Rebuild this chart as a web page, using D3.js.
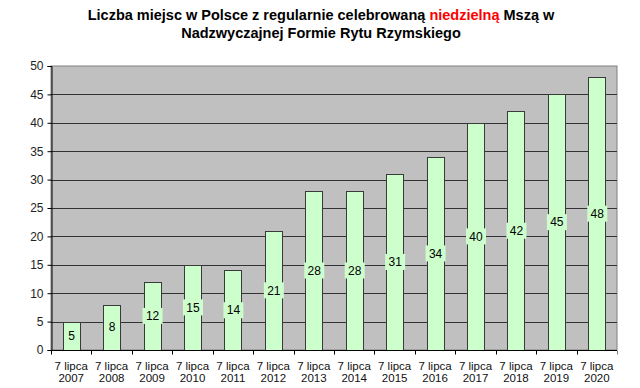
<!DOCTYPE html>
<html>
<head>
<meta charset="utf-8">
<script src="https://cdn.jsdelivr.net/npm/d3@7"></script>
<style>
  body { margin: 0; background: #fff; }
  svg { display: block; font-family: "Liberation Sans", Arial, sans-serif; }
</style>
</head>
<body>
<div id="chart"></div>
<script>
// Data
const lineOne = ["7 lipca", "7 lipca", "7 lipca", "7 lipca", "7 lipca", "7 lipca", "7 lipca",
                 "7 lipca", "7 lipca", "7 lipca", "7 lipca", "7 lipca", "7 lipca", "7 lipca"];
const years = ["2007", "2008", "2009", "2010", "2011", "2012", "2013",
               "2014", "2015", "2016", "2017", "2018", "2019", "2020"];
const counts = [5, 8, 12, 15, 14, 21, 28, 28, 31, 34, 40, 42, 45, 48];
const yTicks = [0, 5, 10, 15, 20, 25, 30, 35, 40, 45, 50];

const svgWidth = 640;
const svgHeight = 388;
const plotLeft = 51, plotRight = 617, plotTop = 66, plotBottom = 350;

const svg = d3.select("#chart").append("svg")
   .attr("width", svgWidth)
   .attr("height", svgHeight);

// **Title
const title = svg.append("text")
   .attr("text-anchor", "middle")
   .attr("font-size", 14.5)
   .attr("font-weight", "bold")
   .attr("fill", "#000");
const t1 = title.append("tspan").attr("x", 321).attr("y", 20);
t1.append("tspan").text("Liczba miejsc w Polsce z regularnie celebrowaną ");
t1.append("tspan").attr("fill", "#ff0000").text("niedzielną");
t1.append("tspan").text(" Mszą w");
title.append("tspan").attr("x", 321).attr("y", 38).text("Nadzwyczajnej Formie Rytu Rzymskiego");

// **Scales
const x = d3.scaleBand()
   .domain(years)
   .range([plotLeft, plotRight])
   .paddingInner(0.58)
   .paddingOuter(0.29);
const xEdges = d3.scaleBand().domain(years).range([plotLeft, plotRight]);
const y = d3.scaleLinear().domain([0, 50]).range([plotBottom, plotTop]);

// **Plot area
svg.append("rect")
   .attr("x", plotLeft).attr("y", plotTop)
   .attr("width", plotRight - plotLeft).attr("height", plotBottom - plotTop)
   .attr("fill", "#c0c0c0")
   .attr("stroke", "#808080");

// Gridlines
svg.append("g")
   .selectAll("line")
   .data(yTicks.filter(d => d > 0 && d < 50))
   .enter().append("line")
   .attr("x1", plotLeft).attr("x2", plotRight)
   .attr("y1", d => Math.round(y(d)) + 0.5).attr("y2", d => Math.round(y(d)) + 0.5)
   .attr("stroke", "#333")
   .attr("stroke-width", 1);

// **Bars
svg.append("g")
   .selectAll("rect")
   .data(counts)
   .enter().append("rect")
   .attr("x", (d, i) => Math.round(x(years[i])) + 0.5)
   .attr("y", d => Math.round(y(d)) + 0.5)
   .attr("width", Math.round(x.bandwidth()))
   .attr("height", d => Math.round(y(0)) - Math.round(y(d)))
   .attr("fill", "#ccffcc")
   .attr("stroke", "#3a3a3a")
   .attr("stroke-width", 1);

// **Value labels
const labels = svg.append("g")
   .selectAll("g")
   .data(counts)
   .enter().append("g")
   .attr("transform", (d, i) => `translate(${x(years[i]) + x.bandwidth() / 2 + 0.5},${(y(d) + y(0)) / 2})`);
labels.append("rect")
   .attr("x", d => d < 10 ? -6 : -10)
   .attr("y", -8)
   .attr("width", d => d < 10 ? 12 : 20)
   .attr("height", 16)
   .attr("fill", "#ccffcc");
labels.append("text")
   .attr("text-anchor", "middle")
   .attr("dy", "0.35em")
   .attr("font-size", 12)
   .attr("fill", "#000")
   .text(d => d);

// **Axes
const yAxis = d3.axisLeft(y).tickValues(yTicks).tickSize(4).tickPadding(4);
const gY = svg.append("g")
   .attr("transform", `translate(${plotLeft + 0.5},0)`)
   .call(yAxis);
gY.select(".domain").attr("stroke", "#000");
gY.selectAll(".tick line").attr("stroke", "#000");
gY.selectAll(".tick text")
   .attr("font-size", 12)
   .attr("font-family", "Liberation Sans, Arial, sans-serif")
   .attr("fill", "#222");

// x axis line with ticks at band edges
const gX = svg.append("g").attr("transform", `translate(0,${plotBottom + 0.5})`);
gX.append("line")
   .attr("x1", plotLeft).attr("x2", plotRight)
   .attr("stroke", "#000");
gX.selectAll("line.tk")
   .data(years.concat(["end"]))
   .enter().append("line")
   .attr("class", "tk")
   .attr("x1", (d, i) => Math.round(i < years.length ? xEdges(d) : plotRight) + 0.5)
   .attr("x2", (d, i) => Math.round(i < years.length ? xEdges(d) : plotRight) + 0.5)
   .attr("y1", 0).attr("y2", 4)
   .attr("stroke", (d, i) => i === years.length ? "#808080" : "#000");

const xLabels = gX.selectAll("text")
   .data(years)
   .enter().append("text")
   .attr("text-anchor", "middle")
   .attr("font-size", 11.5)
   .attr("fill", "#111");
xLabels.append("tspan")
   .attr("x", d => xEdges(d) + xEdges.bandwidth() / 2)
   .attr("y", 19)
   .text((d, i) => lineOne[i]);
xLabels.append("tspan")
   .attr("x", d => xEdges(d) + xEdges.bandwidth() / 2)
   .attr("y", 31)
   .text(d => d);
</script>
</body>
</html>
